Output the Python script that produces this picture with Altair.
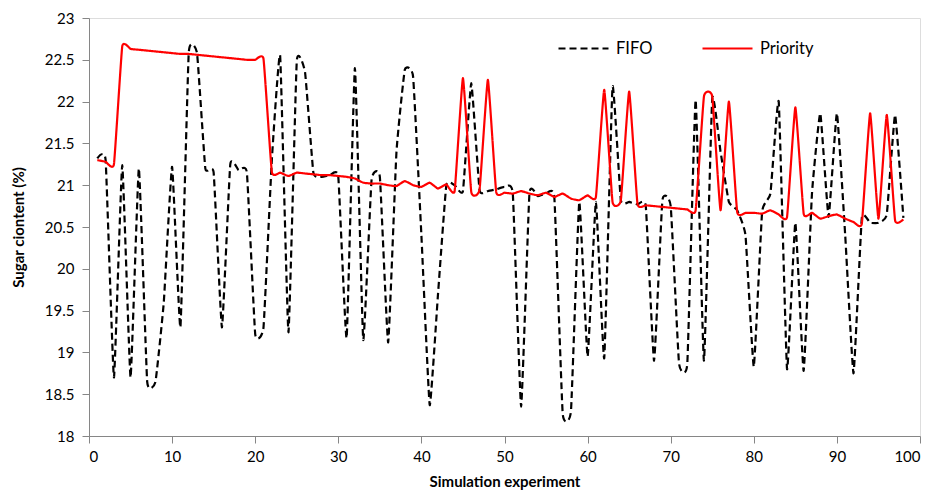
import altair as alt
import pandas as pd

experiments = list(range(1, 99))

fifo = [21.32, 21.30, 18.70, 21.24, 18.70, 21.20, 18.65, 18.65, 19.60, 21.22,
        19.30, 22.58, 22.58, 21.20, 21.15, 19.30, 21.25, 21.18, 21.15, 19.22,
        19.30, 21.30, 22.55, 19.24, 22.48, 22.35, 21.15, 21.10, 21.12, 21.10,
        19.17, 22.40, 19.15, 21.06, 21.10, 19.12, 21.40, 22.38, 22.30, 20.40,
        18.37, 19.70, 21.00, 21.00, 20.93, 22.22, 20.94, 20.93, 20.95, 20.98,
        20.90, 18.35, 20.90, 20.87, 20.90, 20.85, 18.27, 18.30, 20.80, 18.95,
        20.80, 18.93, 22.18, 20.82, 20.80, 20.77, 20.75, 18.90, 20.82, 20.75,
        18.87, 18.87, 22.02, 18.90, 22.04, 21.40, 20.80, 20.70, 20.40, 18.83,
        20.68, 20.90, 22.00, 18.80, 20.55, 18.78, 20.90, 21.86, 20.62, 21.86,
        20.40, 18.75, 20.61, 20.55, 20.55, 20.65, 21.84, 20.61]

priority = [21.30, 21.28, 21.25, 22.66, 22.63, 22.62, 22.61, 22.60, 22.59, 22.58,
            22.57, 22.57, 22.56, 22.55, 22.54, 22.53, 22.52, 22.51, 22.50, 22.50,
            22.51, 21.16, 21.15, 21.11, 21.15, 21.14, 21.13, 21.12, 21.12, 21.11,
            21.10, 21.08, 21.03, 21.02, 21.02, 21.00, 20.99, 21.05, 21.00, 20.98,
            21.03, 20.96, 21.01, 20.93, 22.28, 20.92, 20.95, 22.26, 20.92, 20.91,
            20.90, 20.93, 20.90, 20.88, 20.91, 20.86, 20.90, 20.84, 20.82, 20.88,
            20.86, 22.14, 20.80, 20.82, 22.12, 20.78, 20.76, 20.75, 20.74, 20.73,
            20.72, 20.71, 20.70, 22.06, 22.06, 20.70, 22.00, 20.68, 20.67, 20.67,
            20.66, 20.70, 20.65, 20.62, 21.93, 20.66, 20.67, 20.60, 20.63, 20.65,
            20.60, 20.56, 20.54, 21.86, 20.60, 21.84, 20.58, 20.59]

series_names = ["FIFO", "Priority"]

df = pd.concat([
    pd.DataFrame({"experiment": experiments, "sugar": fifo, "series": series_names[0]}),
    pd.DataFrame({"experiment": experiments, "sugar": priority, "series": series_names[1]}),
])

FONT = "Lato"
AXIS_COLOR = "#868686"

legend_kwargs = dict(title=None, orient="none", legendX=468, legendY=4,
                     direction="horizontal", symbolType="stroke",
                     symbolSize=2500, symbolStrokeWidth=2.2,
                     labelFont=FONT, labelFontSize=16.5, labelColor="#000000",
                     labelOffset=6, columnPadding=45, padding=0)

chart = alt.Chart(df).mark_line(interpolate="cardinal", tension=0.65, strokeWidth=2.2).encode(
    x=alt.X("experiment:Q",
            scale=alt.Scale(domain=[0, 100], nice=False, zero=False),
            axis=alt.Axis(title="Simulation experiment", values=list(range(0, 101, 10)),
                          grid=False, tickSize=7, labelPadding=6, titlePadding=10,
                          domainColor=AXIS_COLOR, tickColor=AXIS_COLOR,
                          labelFont=FONT, labelFontSize=15, labelColor="#000000",
                          titleFont=FONT, titleFontSize=15, titleFontWeight="bold",
                          titleColor="#000000")),
    y=alt.Y("sugar:Q",
            scale=alt.Scale(domain=[18, 23], nice=False, zero=False),
            axis=alt.Axis(title="Sugar ciontent (%)", values=[18 + 0.5 * i for i in range(11)],
                          format="~g", grid=False, tickSize=7, labelPadding=8, titlePadding=18,
                          domainColor=AXIS_COLOR, tickColor=AXIS_COLOR,
                          labelFont=FONT, labelFontSize=15, labelColor="#000000",
                          titleFont=FONT, titleFontSize=15, titleFontWeight="bold",
                          titleColor="#000000")),
    color=alt.Color("series:N",
                    scale=alt.Scale(domain=series_names, range=["#000000", "#ff0000"]),
                    legend=alt.Legend(**legend_kwargs)),
    strokeDash=alt.StrokeDash("series:N",
                              scale=alt.Scale(domain=series_names, range=[[7, 4], [1, 0]]),
                              legend=alt.Legend(**legend_kwargs)),
).properties(
    width=831,
    height=418,
    autosize=alt.AutoSizeParams(type="none"),
    padding={"left": 81, "top": 10, "right": 5, "bottom": 56},
).configure_view(stroke=None).configure(background="#ffffff")

chart.save("out.html", embed_options={"renderer": "svg", "actions": False})
